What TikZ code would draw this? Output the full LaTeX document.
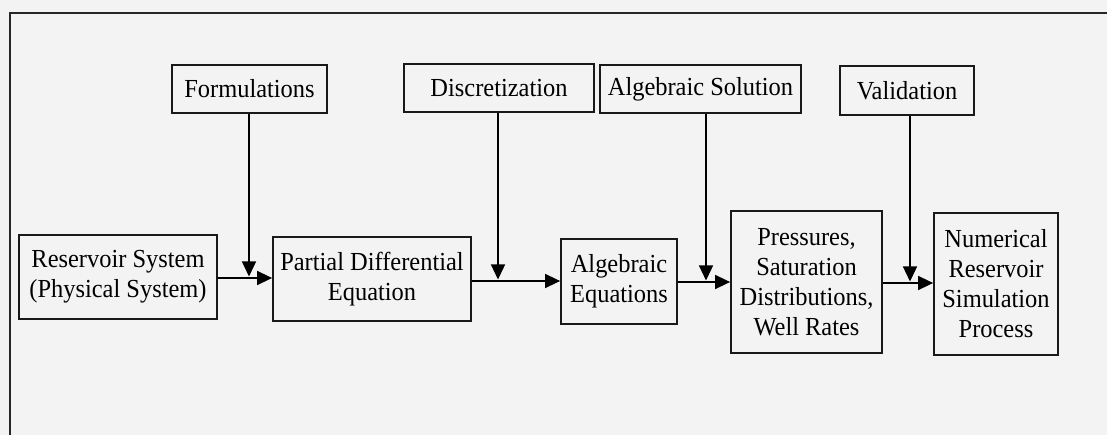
\documentclass[tikz,border=0pt]{standalone}
\usepackage{fontspec}
\setmainfont{Liberation Serif}[FakeStretch=0.94]
\usetikzlibrary{arrows.meta}
\definecolor{bg}{HTML}{F3F3F3}
\begin{document}
\begin{tikzpicture}[x=1pt,y=-1pt,
  box/.style={draw=black!90, line width=1.8pt, align=center, inner sep=0pt,
    font=\fontsize{26}{30}\selectfont},
  conn/.style={line width=1.6pt, -{Triangle[length=15pt,width=14pt]}}]
\fill[bg] (0,0) rectangle (1107,435);
\useasboundingbox (0,0) rectangle (1107,435);
\draw[line width=1.8pt, black!85] (10,435) -- (10,13) -- (1107,13);
% top row
\node[box, minimum width=155pt, minimum height=48pt] (form) at (249.5,89) {Formulations};
\node[box, minimum width=190pt, minimum height=48pt] (disc) at (499,88) {Discretization};
\node[box, minimum width=201pt, minimum height=48pt] (algsol) at (700.5,89) {Algebraic Solution};
\node[box, minimum width=134pt, minimum height=49pt] (valid) at (907,90.5) {Validation};
% bottom row
\node[box, minimum width=198pt, minimum height=84pt] (rs) at (118,277) {Reservoir System\\(Physical System)};
\node[box, minimum width=198pt, minimum height=84pt] (pde) at (372,279) {Partial Differential\\Equation};
\node[box, minimum width=116pt, minimum height=85pt] (ae) at (619,281.5) {Algebraic\\Equations};
\node[box, minimum width=151pt, minimum height=142pt] (pr) at (806.5,282) {Pressures,\\Saturation\\Distributions,\\Well Rates};
\node[box, minimum width=124pt, minimum height=142pt] (num) at (996,284) {Numerical\\Reservoir\\Simulation\\Process};
% junctions
\coordinate (j1) at (249,278);
\coordinate (j2) at (498,281);
\coordinate (j3) at (706,282);
\coordinate (j4) at (910,283);
% horizontal arrows
\draw[conn] (rs.east |- j1) -- (pde.west |- j1);
\draw[conn] (pde.east |- j2) -- (ae.west |- j2);
\draw[conn] (ae.east |- j3) -- (pr.west |- j3);
\draw[conn] (pr.east |- j4) -- (num.west |- j4);
% vertical arrows
\draw[conn, line width=1.3pt, shorten >=1.5pt] (form.south -| j1) -- (j1);
\draw[conn, line width=1.3pt, shorten >=1.5pt] (disc.south -| j2) -- (j2);
\draw[conn, line width=1.3pt, shorten >=1.5pt] (algsol.south -| j3) -- (j3);
\draw[conn, line width=1.3pt, shorten >=1.5pt] (valid.south -| j4) -- (j4);
\end{tikzpicture}
\end{document}
